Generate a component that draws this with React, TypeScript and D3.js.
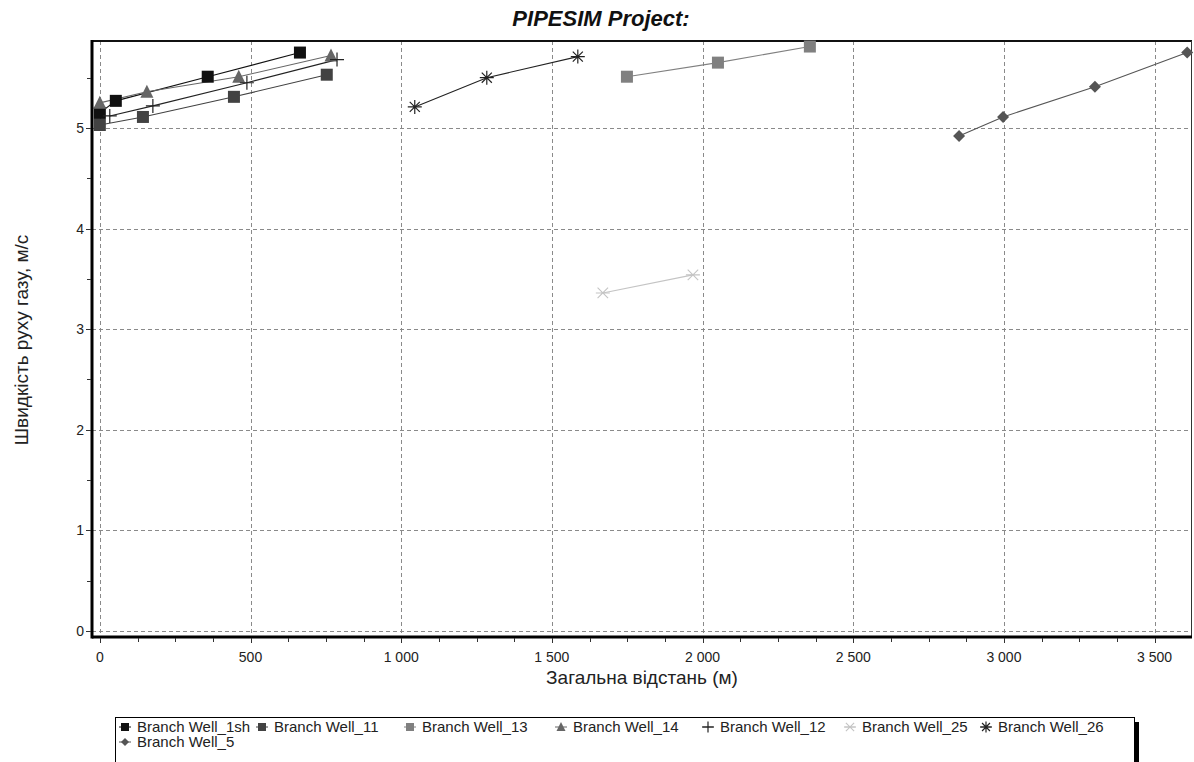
import { useEffect, useRef } from 'react'
import * as d3 from 'd3'

type Pt = [number, number]

const well1sh: Pt[] = [[0, 5.15], [53, 5.27], [358, 5.51], [664, 5.75]]
const well11: Pt[] = [[0, 5.03], [143, 5.11], [445, 5.31], [753, 5.53]]
const well13: Pt[] = [[1749, 5.51], [2051, 5.65], [2356, 5.81]]
const well14: Pt[] = [[0, 5.25], [156, 5.36], [461, 5.51], [767, 5.72]]
const well12: Pt[] = [[33, 5.12], [176, 5.22], [488, 5.45], [787, 5.68]]
const well25: Pt[] = [[1669, 3.36], [1968, 3.54]]
const well26: Pt[] = [[1045, 5.21], [1284, 5.5], [1586, 5.71]]
const well5: Pt[] = [[2851, 4.92], [2997, 5.11], [3302, 5.41], [3608, 5.75]]

const seriesNames = [
  'Branch Well_1sh', 'Branch Well_11', 'Branch Well_13', 'Branch Well_14',
  'Branch Well_12', 'Branch Well_25', 'Branch Well_26', 'Branch Well_5',
]
const seriesData = [well1sh, well11, well13, well14, well12, well25, well26, well5]
const seriesColors = ['#111111', '#424242', '#808080', '#666666', '#222222', '#c4c4c4', '#222222', '#555555']
const seriesShapes = ['square', 'square', 'square', 'triangle', 'plus', 'cross', 'star', 'diamond']

const xTicks = [0, 500, 1000, 1500, 2000, 2500, 3000, 3500]
const yTicks = [0, 1, 2, 3, 4, 5]

const title = 'PIPESIM Project:'
const xTitle = 'Загальна відстань (м)'
const yTitle = 'Швидкість руху газу, м/с'

const FONT = '"Liberation Sans", Arial, sans-serif'

function drawMarker(g: d3.Selection<SVGGElement, unknown, null, undefined>, shape: string, x: number, y: number, color: string, s: number) {
  const h = s / 2
  if (shape === 'square') {
    g.append('rect').attr('x', x - h).attr('y', y - h).attr('width', s).attr('height', s).attr('fill', color)
  } else if (shape === 'triangle') {
    g.append('path').attr('d', `M${x},${y - h - 1}L${x + h + 0.5},${y + h}L${x - h - 0.5},${y + h}Z`).attr('fill', color)
  } else if (shape === 'diamond') {
    g.append('path').attr('d', `M${x},${y - h}L${x + h},${y}L${x},${y + h}L${x - h},${y}Z`).attr('fill', color)
  } else if (shape === 'plus') {
    g.append('path').attr('d', `M${x - h},${y}H${x + h}M${x},${y - h}V${y + h}`).attr('stroke', color).attr('stroke-width', 1.2)
  } else if (shape === 'cross') {
    const k = h * 0.75
    g.append('path').attr('d', `M${x - k},${y - k}L${x + k},${y + k}M${x - k},${y + k}L${x + k},${y - k}M${x - h},${y}H${x + h}`)
      .attr('stroke', color).attr('stroke-width', 1.1)
  } else if (shape === 'star') {
    const k = h * 0.72
    g.append('path').attr('d', `M${x - k},${y - k}L${x + k},${y + k}M${x - k},${y + k}L${x + k},${y - k}M${x - h},${y}H${x + h}M${x},${y - h}V${y + h}`)
      .attr('stroke', color).attr('stroke-width', 1.2)
  }
}

export default function App() {
  const svgRef = useRef<SVGSVGElement>(null)
  const width = 1194
  const height = 762

  useEffect(() => {
    if (!svgRef.current) return
    const svg = d3.select(svgRef.current)
    svg.selectAll('*').remove()

    const left = 92, right = 1192, top = 41, bottom = 637

    const xScale = d3.scaleLinear().domain([-26, 3624]).range([left, right])
    const yScale = d3.scaleLinear().domain([-0.06, 5.865]).range([bottom, top])
    const fmt = (v: number) => d3.format(',')(v).replace(/,/g, '\u00a0')

    svg.append('rect').attr('width', width).attr('height', height).attr('fill', '#fff')

    // grid
    const grid = svg.append('g').attr('stroke', '#8a8a8a').attr('stroke-width', 1).attr('stroke-dasharray', '4,3')
    xTicks.forEach(t => {
      const x = Math.round(xScale(t)) + 0.5
      grid.append('line').attr('x1', x).attr('x2', x).attr('y1', top).attr('y2', bottom)
    })
    yTicks.forEach(t => {
      const y = Math.round(yScale(t)) + 0.5
      grid.append('line').attr('x1', left).attr('x2', right).attr('y1', y).attr('y2', y)
    })

    // frame
    svg.append('line').attr('x1', left).attr('x2', right).attr('y1', top).attr('y2', top)
      .attr('stroke', '#111').attr('stroke-width', 2)
    svg.append('line').attr('x1', right - 0.5).attr('x2', right - 0.5).attr('y1', top).attr('y2', bottom)
      .attr('stroke', '#333').attr('stroke-width', 1)

    // series
    const plot = svg.append('g')
    seriesData.forEach((pts, i) => {
      const line = d3.line<Pt>().x(d => xScale(d[0])).y(d => yScale(d[1]))
      plot.append('path').datum(pts).attr('d', line).attr('fill', 'none')
        .attr('stroke', seriesColors[i]).attr('stroke-width', 1.1)
    })
    seriesData.forEach((pts, i) => {
      const size = seriesShapes[i] === 'plus' || seriesShapes[i] === 'star' || seriesShapes[i] === 'cross' ? 14 : 12
      pts.forEach(d => drawMarker(plot, seriesShapes[i], xScale(d[0]), yScale(d[1]), seriesColors[i], size))
    })

    // axes
    const ax = svg.append('g')
    ax.append('line').attr('x1', left).attr('x2', right).attr('y1', bottom).attr('y2', bottom)
      .attr('stroke', '#000').attr('stroke-width', 3)
    ax.append('line').attr('x1', left).attr('x2', left).attr('y1', top - 1).attr('y2', bottom + 1.5)
      .attr('stroke', '#000').attr('stroke-width', 3)

    d3.range(0, 3625, 125).forEach(t => {
      const x = Math.round(xScale(t)) + 0.5
      const major = t % 500 === 0
      ax.append('line').attr('x1', x).attr('x2', x).attr('y1', bottom + 1).attr('y2', bottom + (major ? 6 : 5))
        .attr('stroke', '#333')
    })
    xTicks.forEach(t => {
      ax.append('text').attr('x', xScale(t)).attr('y', bottom + 25).attr('text-anchor', 'middle')
        .attr('font-family', FONT).attr('font-size', 14).attr('fill', '#222').text(fmt(t))
    })
    d3.range(0, 5.8, 0.5).forEach(t => {
      const y = Math.round(yScale(t)) + 0.5
      const major = t % 1 === 0
      ax.append('line').attr('x1', left - 1).attr('x2', left - (major ? 6 : 5)).attr('y1', y).attr('y2', y)
        .attr('stroke', '#333')
    })
    yTicks.forEach(t => {
      ax.append('text').attr('x', left - 8).attr('y', yScale(t) + 5).attr('text-anchor', 'end')
        .attr('font-family', FONT).attr('font-size', 14).attr('fill', '#222').text(fmt(t))
    })

    // titles
    svg.append('text').attr('x', 601).attr('y', 26).attr('text-anchor', 'middle')
      .attr('font-family', FONT).attr('font-size', 22).attr('font-weight', 'bold').attr('font-style', 'italic')
      .attr('fill', '#111').text(title)
    svg.append('text').attr('x', (left + right) / 2).attr('y', 684).attr('text-anchor', 'middle')
      .attr('font-family', FONT).attr('font-size', 19).attr('fill', '#222').text(xTitle)
    svg.append('text').attr('transform', `translate(28,340) rotate(-90)`).attr('text-anchor', 'middle')
      .attr('font-family', FONT).attr('font-size', 19).attr('fill', '#222').text(yTitle)

    // legend
    const lg = svg.append('g')
    lg.append('rect').attr('x', 1134).attr('y', 722).attr('width', 5).attr('height', 60).attr('fill', '#000')
    lg.append('rect').attr('x', 115.5).attr('y', 717.5).attr('width', 1019).attr('height', 60)
      .attr('fill', '#fff').attr('stroke', '#000').attr('stroke-width', 1)
    const itemX = [125, 262, 410, 561, 708, 850, 986, 125]
    const itemY = [727, 727, 727, 727, 727, 727, 727, 742]
    seriesNames.forEach((name, i) => {
      const cx = itemX[i], cy = itemY[i]
      lg.append('line').attr('x1', cx - 6).attr('x2', cx + 6).attr('y1', cy).attr('y2', cy)
        .attr('stroke', seriesColors[i]).attr('stroke-width', 1)
      drawMarker(lg, seriesShapes[i], cx, cy, seriesColors[i], seriesShapes[i] === 'plus' || seriesShapes[i] === 'star' || seriesShapes[i] === 'cross' ? 11 : 8)
      lg.append('text').attr('x', cx + 12).attr('y', cy + 5).attr('font-family', FONT).attr('font-size', 15)
        .attr('fill', '#222').text(name)
    })
  }, [])

  return (
    <svg ref={svgRef} width={width} height={height} style={{ position: 'absolute', left: 0, top: 0 }} />
  )
}
